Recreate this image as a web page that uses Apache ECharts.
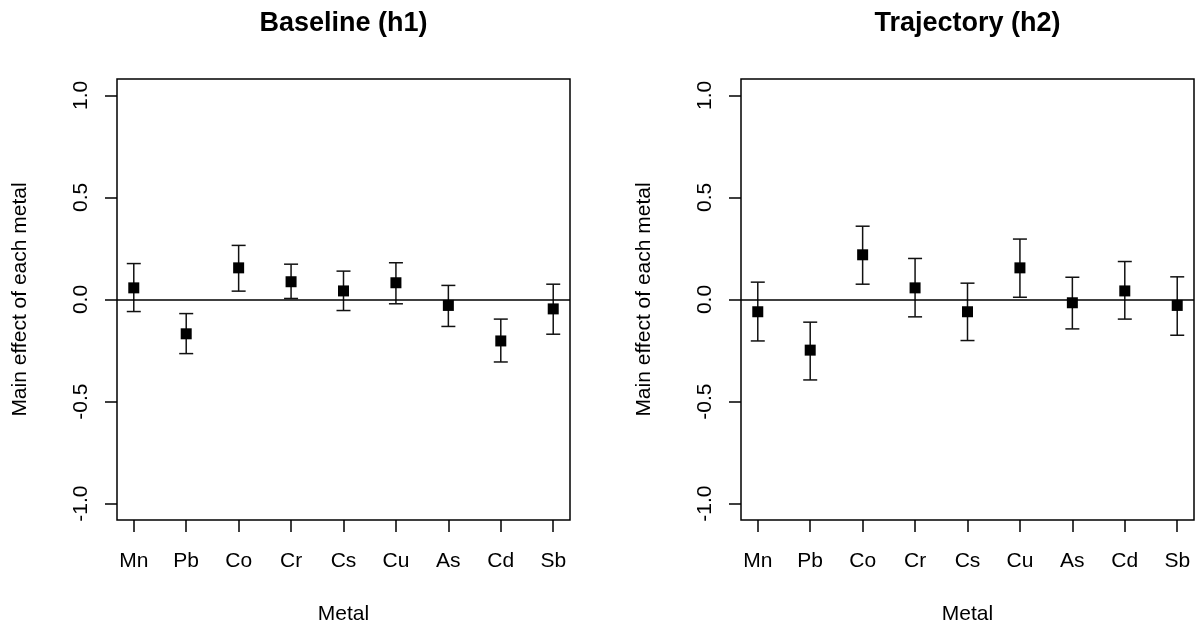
<!DOCTYPE html>
<html>
<head>
<meta charset="utf-8">
<script src="https://cdn.jsdelivr.net/npm/echarts@6/dist/echarts.min.js"></script>
<style>html,body{margin:0;padding:0;background:#fff}#c{width:1196px;height:628px}</style>
</head>
<body>
<div id="c"></div>
<script>
const metals = ['Mn','Pb','Co','Cr','Cs','Cu','As','Cd','Sb'];
const yTicks = [-1.0, -0.5, 0.0, 0.5, 1.0];
const h1Est  = [0.057,-0.168,0.155,0.087,0.042,0.082,-0.029,-0.203,-0.046];
const h1Low  = [-0.059,-0.265,0.041,0.005,-0.054,-0.021,-0.132,-0.306,-0.170];
const h1High = [0.176,-0.069,0.265,0.173,0.139,0.180,0.069,-0.096,0.075];
const h2Est  = [-0.060,-0.248,0.219,0.057,-0.060,0.155,-0.016,0.042,-0.029];
const h2Low  = [-0.203,-0.394,0.075,-0.085,-0.201,0.011,-0.144,-0.096,-0.175];
const h2High = [0.085,-0.111,0.359,0.201,0.080,0.296,0.109,0.186,0.111];
const titles = ['Baseline (h1)', 'Trajectory (h2)'];
const xName = 'Metal';
const yName = 'Main effect of each metal';

const FONT = "'Liberation Sans', Arial, Helvetica, sans-serif";
const FS = 21;
const panels = [
  {left: 117, est: h1Est, low: h1Low, high: h1High},
  {left: 741, est: h2Est, low: h2Low, high: h2High}
];
const W = 453, TOP = 79, H = 441;
const xPos = metals.map((m, i) => i + 1);

const grid = [], xAxis = [], yAxis = [], series = [], graphic = [];
panels.forEach((p, k) => {
  grid.push({left: p.left, top: TOP, width: W, height: H, show: true,
    borderColor: '#000', borderWidth: 1.5, backgroundColor: 'transparent', containLabel: false});
  xAxis.push({type: 'value', gridIndex: k, min: 0.68, max: 9.32, position: 'bottom',
    axisLine: {show: false, onZero: false}, splitLine: {show: false},
    axisTick: {show: true, length: 12, inside: false, customValues: xPos, lineStyle: {color: '#000', width: 1.5}},
    axisLabel: {show: true, customValues: xPos, margin: 31, color: '#000', fontSize: FS, fontFamily: FONT,
      formatter: v => metals[Math.round(v) - 1] || ''}});
  yAxis.push({type: 'value', gridIndex: k, min: -1.08, max: 1.08, position: 'left',
    axisLine: {show: false, onZero: false}, splitLine: {show: false},
    axisTick: {show: true, length: 12, inside: false, customValues: yTicks, lineStyle: {color: '#000', width: 1.5}},
    axisLabel: {show: true, customValues: yTicks, rotate: 90, margin: 25, color: '#000', fontSize: FS, fontFamily: FONT,
      align: 'center', verticalAlign: 'bottom',
      formatter: v => v.toFixed(1)}});
  series.push({type: 'custom', xAxisIndex: k, yAxisIndex: k, silent: true,
    data: xPos.map((x, i) => [x, p.low[i], p.high[i]]),
    renderItem: (params, api) => {
      const x = api.value(0);
      const lo = api.coord([x, api.value(1)]);
      const hi = api.coord([x, api.value(2)]);
      const hw = 7;
      const st = {stroke: '#111', lineWidth: 1.5};
      return {type: 'group', children: [
        {type: 'line', shape: {x1: lo[0], y1: lo[1], x2: hi[0], y2: hi[1]}, style: st},
        {type: 'line', shape: {x1: lo[0] - hw, y1: lo[1], x2: lo[0] + hw, y2: lo[1]}, style: st},
        {type: 'line', shape: {x1: hi[0] - hw, y1: hi[1], x2: hi[0] + hw, y2: hi[1]}, style: st}
      ]};
    }});
  series.push({type: 'scatter', xAxisIndex: k, yAxisIndex: k, silent: true,
    symbol: 'rect', symbolSize: 11, itemStyle: {color: '#000', opacity: 1},
    data: xPos.map((x, i) => [x, p.est[i]]), z: 5,
    markLine: {silent: true, symbol: 'none', label: {show: false},
      lineStyle: {color: '#000', width: 1.5, type: 'solid'},
      data: [{yAxis: 0}]}});
  const cx = p.left + W / 2;
  graphic.push({type: 'text', x: cx, y: 24, style: {text: titles[k], font: 'bold 27px ' + FONT,
    fill: '#000', textAlign: 'center', textVerticalAlign: 'middle'}});
  graphic.push({type: 'text', x: cx, y: 614, style: {text: xName, font: FS + 'px ' + FONT,
    fill: '#000', textAlign: 'center', textVerticalAlign: 'middle'}});
  graphic.push({type: 'text', x: p.left - 97, y: TOP + H / 2, rotation: Math.PI / 2,
    style: {text: yName, font: FS + 'px ' + FONT, fill: '#000', textAlign: 'center', textVerticalAlign: 'middle'}});
});

const chart = echarts.init(document.getElementById('c'), null, {renderer: 'canvas'});
chart.setOption({animation: false, backgroundColor: '#fff', grid, xAxis, yAxis, series, graphic});
</script>
</body>
</html>
